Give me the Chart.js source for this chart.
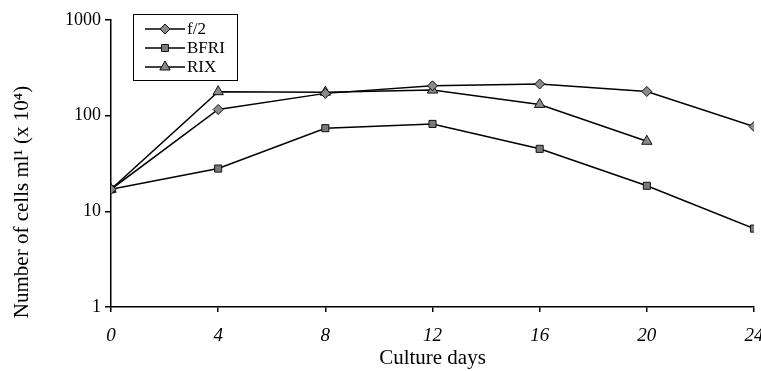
<!DOCTYPE html>
<html>
<head>
<meta charset="utf-8">
<script src="https://cdn.jsdelivr.net/npm/chart.js@4/dist/chart.umd.min.js"></script>
<style>
html,body{margin:0;padding:0;background:#fff;}
#wrap{width:761px;height:371px;position:relative;}
</style>
</head>
<body>
<div id="wrap"><canvas id="c" width="761" height="371"></canvas></div>
<script>
const days = [0, 4, 8, 12, 16, 20, 24];
const f2 = [17, 116, 171, 205, 214, 179, 77];
const bfri = [17, 28, 74, 82, 45, 18.5, 6.6];
const rix = [17, 178, 176, 185, 131, 54, null];
const yTicks = [1, 10, 100, 1000];
const seriesNames = ['f/2', 'BFRI', 'RIX'];
const xTitle = 'Culture days';
const yTitle = 'Number of cells ml\u00B9 (x 10\u2074)';

const FONT = '"Liberation Serif", "DejaVu Serif", serif';

function mk(name, vals, style, radius, fill) {
  return {
    label: name,
    data: days.map((d, i) => ({x: d, y: vals[i]})),
    borderColor: '#000',
    borderWidth: 1.5,
    pointStyle: style,
    pointRadius: radius,
    pointHoverRadius: radius,
    pointBackgroundColor: fill,
    pointBorderColor: '#111',
    pointBorderWidth: 1,
    tension: 0,
    spanGaps: false
  };
}

const legendBox = {
  id: 'legendBox',
  afterDraw(chart) {
    const ctx = chart.ctx;
    const x0 = 133, y0 = 14, w = 104, h = 66;
    ctx.save();
    ctx.fillStyle = '#fff';
    ctx.fillRect(x0, y0, w, h);
    ctx.strokeStyle = '#000';
    ctx.lineWidth = 1;
    ctx.strokeRect(x0 + 0.5, y0 + 0.5, w, h);
    chart.data.datasets.forEach((ds, i) => {
      const y = y0 + 15 + i * 19;
      ctx.strokeStyle = '#000';
      ctx.lineWidth = 1.5;
      ctx.beginPath();
      ctx.moveTo(x0 + 12, y);
      ctx.lineTo(x0 + 52, y);
      ctx.stroke();
      ctx.fillStyle = ds.pointBackgroundColor;
      ctx.strokeStyle = ds.pointBorderColor;
      ctx.lineWidth = 1;
      Chart.helpers.drawPoint(ctx, {pointStyle: ds.pointStyle, radius: ds.pointRadius, borderWidth: 1}, x0 + 32, y);
      ctx.fillStyle = '#000';
      ctx.font = '17px ' + FONT;
      ctx.textBaseline = 'middle';
      ctx.textAlign = 'left';
      ctx.fillText(ds.label, x0 + 54, y + 1);
    });
    ctx.restore();
  }
};

const yTitlePlugin = {
  id: 'yTitlePlugin',
  afterDraw(chart) {
    const ctx = chart.ctx;
    ctx.save();
    ctx.translate(22, 202);
    ctx.rotate(-Math.PI / 2);
    ctx.fillStyle = '#000';
    ctx.font = '21px ' + FONT;
    ctx.textAlign = 'center';
    ctx.textBaseline = 'middle';
    ctx.fillText(yTitle, 0, 0);
    ctx.restore();
  }
};

new Chart(document.getElementById('c'), {
  type: 'line',
  data: {
    datasets: [
      mk(seriesNames[0], f2, 'rectRot', 5, '#8a8a8a'),
      mk(seriesNames[1], bfri, 'rect', 5, '#7a7a7a'),
      mk(seriesNames[2], rix, 'triangle', 6, '#8a8a8a')
    ]
  },
  options: {
    responsive: false,
    animation: false,
    events: [],
    layout: {padding: {top: 20, right: 5, left: 0, bottom: 0}},
    plugins: {legend: {display: false}, tooltip: {enabled: false}},
    scales: {
      x: {
        type: 'linear',
        min: 0, max: 24,
        afterBuildTicks(s) { s.ticks = days.map(v => ({value: v})); },
        afterFit(s) { s.height = 64; s.paddingRight = 0; s.paddingLeft = 0; },
        grid: {drawOnChartArea: false, drawTicks: true, tickLength: 5, color: '#000', lineWidth: 1.5},
        border: {color: '#000', width: 1.5},
        ticks: {color: '#000', font: {family: FONT, size: 19, style: 'italic'}, padding: 13, maxRotation: 0},
        title: {display: true, text: xTitle, color: '#000', font: {family: FONT, size: 21}, padding: {top: 0, bottom: 0}}
      },
      y: {
        type: 'logarithmic',
        min: 1, max: 1000,
        afterBuildTicks(s) { s.ticks = yTicks.map(v => ({value: v})); },
        afterFit(s) { s.width = 111; },
        grid: {drawOnChartArea: false, drawTicks: true, tickLength: 6, color: '#000', lineWidth: 1.5},
        border: {color: '#000', width: 1.5},
        ticks: {color: '#000', font: {family: FONT, size: 18}, padding: 4, callback: v => String(v)},
        title: {display: false}
      }
    }
  },
  plugins: [legendBox, yTitlePlugin]
});
</script>
</body>
</html>
